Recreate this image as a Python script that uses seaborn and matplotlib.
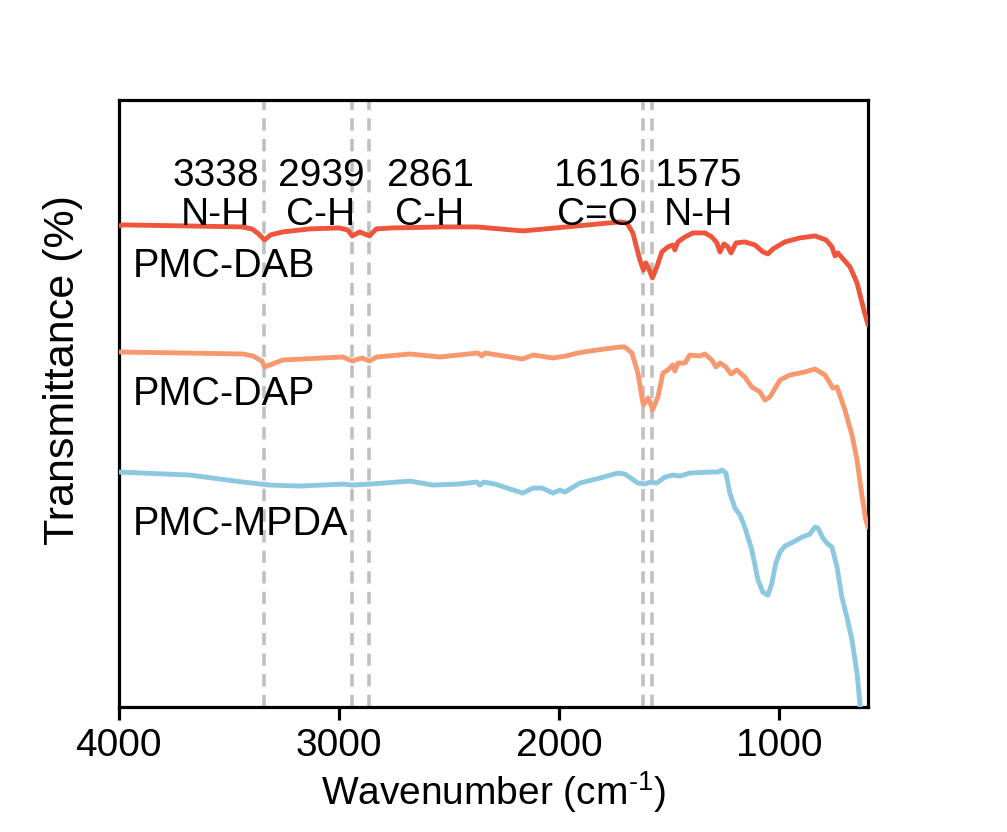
import matplotlib
matplotlib.use("Agg")
import matplotlib.pyplot as plt
import seaborn as sns
import pandas as pd

# ---- data (wavenumber in cm-1, transmittance in arbitrary offset units) ----
dab_wn = [4000, 3980, 3700, 3440, 3395, 3365, 3338, 3310, 3255, 3132, 3000, 2960, 2939, 2905,
          2861, 2830, 2755, 2527, 2373, 2164, 1964, 1723, 1691, 1664, 1632, 1616, 1605, 1595,
          1575, 1555, 1532, 1505, 1482, 1473, 1459, 1427, 1391, 1336, 1305, 1282, 1268, 1250,
          1232, 1218, 1195, 1155, 1109, 1073, 1050, 1027, 973, 905, 836, 786, 759, 745, 732,
          677, 645, 614, 595]
dab_t = [481, 482, 481, 480, 478, 473, 467, 472, 475, 478, 479, 477, 471, 475,
         471, 478, 479, 480, 480, 476, 480, 485, 484, 474, 447, 437, 444, 440,
         429, 440, 455, 460, 462, 457, 465, 470, 474, 474, 470, 464, 455, 463,
         460, 454, 464, 465, 462, 455, 453, 458, 465, 469, 471, 467, 460, 451, 454,
         440, 424, 397, 382]

dap_wn = [4000, 3700, 3436, 3391, 3350, 3338, 3255, 2982, 2939, 2895, 2861, 2827, 2677, 2541,
          2368, 2350, 2336, 2164, 2118, 2027, 1968, 1914, 1859, 1723, 1700, 1668, 1641, 1623,
          1616, 1595, 1577, 1575, 1550, 1527, 1505, 1482, 1473, 1459, 1427, 1405, 1359, 1336,
          1305, 1286, 1268, 1241, 1218, 1191, 1155, 1123, 1086, 1064, 1041, 995, 950, 882,
          836, 791, 768, 755, 736, 700, 668, 645, 623, 605, 595]
dap_t = [355, 354, 353, 351, 346, 340, 347, 350, 346, 349, 346, 350, 353, 350,
         354, 351, 354, 348, 352, 349, 351, 354, 356, 360, 360, 354, 334, 310,
         302, 309, 300, 297, 310, 334, 337, 342, 336, 344, 344, 352, 351, 353,
         347, 340, 344, 340, 333, 337, 330, 320, 315, 307, 310, 327, 332, 335,
         338, 332, 324, 319, 320, 297, 272, 247, 212, 187, 180]

mpda_wn = [4000, 3677, 3436, 3314, 3177, 2982, 2939, 2859, 2677, 2573, 2459, 2373, 2359, 2341,
           2291, 2164, 2118, 2077, 2027, 1995, 1973, 1905, 1814, 1732, 1700, 1641, 1609, 1586,
           1555, 1518, 1482, 1450, 1405, 1314, 1277, 1259, 1241, 1223, 1200, 1177, 1155, 1123,
           1095, 1073, 1050, 1032, 1014, 995, 973, 936, 895, 859, 836, 823, 800, 782, 759, 736,
           714, 691, 668, 645, 632, 626]
mpda_t = [235, 232, 225, 222, 221, 223, 222, 223, 226, 222, 223, 225, 222, 225,
          223, 214, 219, 219, 214, 217, 215, 224, 229, 234, 233, 224, 223, 225,
          224, 230, 232, 231, 234, 235, 235, 237, 234, 214, 199, 192, 180, 157,
          127, 115, 112, 124, 144, 155, 161, 165, 170, 173, 180, 179, 169, 164, 160, 140,
          110, 90, 67, 34, 4, -10]

series_names = ["PMC-DAB", "PMC-DAP", "PMC-MPDA"]
series_colors = ["#EE553B", "#F7986F", "#8DC8E1"]

peak_wn = [3338, 2939, 2861, 1616, 1575]
peak_num_labels = ["3338", "2939", "2861", "1616", "1575"]
peak_bond_labels = ["N-H", "C-H", "C-H", "C=O", "N-H"]
peak_label_x = [3559, 3082, 2586, 1827, 1368]

xticks = [4000, 3000, 2000, 1000]

# ---- build dataframe ----
frames = []
for name, wn, t in zip(series_names, [dab_wn, dap_wn, mpda_wn], [dab_t, dap_t, mpda_t]):
    frames.append(pd.DataFrame({"wn": wn, "t": t, "sample": name}))
df = pd.concat(frames, ignore_index=True)

sns.set_theme(style="white")
plt.rcParams["font.family"] = ["Liberation Sans", "DejaVu Sans"]
plt.rcParams["mathtext.fontset"] = "custom"
plt.rcParams["mathtext.rm"] = "Liberation Sans"
plt.rcParams["text.color"] = "black"
plt.rcParams["axes.labelcolor"] = "black"

fig = plt.figure(figsize=(10.07, 8.32), dpi=100)
ax = fig.add_axes([0.118, 0.150, 0.744, 0.730])

for x in peak_wn:
    ax.axvline(x, color="#C0C0C0", lw=2.6, linestyle=(0, (3.4, 2.3)), zorder=1)

sns.lineplot(data=df, x="wn", y="t", hue="sample", hue_order=series_names,
             palette=series_colors, sort=False, estimator=None, lw=3.5,
             legend=False, ax=ax, zorder=3)

ax.set_xlim(4000, 595)
ax.set_ylim(0, 607)
ax.set_xticks(xticks)
ax.set_xticklabels([str(v) for v in xticks])
ax.set_yticks([])

for s in ax.spines.values():
    s.set_linewidth(2.3)
    s.set_color("black")

ax.tick_params(axis="x", direction="out", length=9, width=2.3, pad=6,
               labelsize=28, colors="black", bottom=True)

ax.set_xlabel("Wavenumber (cm$^{\\text{-}1}$)", fontsize=28, labelpad=4, color="black")
ax.set_ylabel("Transmittance (%)", fontsize=31, color="black")
ax.yaxis.set_label_coords(-0.048, 0.555)

for xl, num, bond in zip(peak_label_x, peak_num_labels, peak_bond_labels):
    ax.text(xl, 521, num, fontsize=28, ha="center", va="baseline", color="black")
    ax.text(xl, 482, bond, fontsize=28, ha="center", va="baseline", color="black")

label_y = [430, 302, 172]
for name, ly in zip(series_names, label_y):
    ax.text(3936, ly, name, fontsize=28.5, ha="left", va="baseline", color="black")

fig.savefig("out.png", dpi=100, facecolor="white")
